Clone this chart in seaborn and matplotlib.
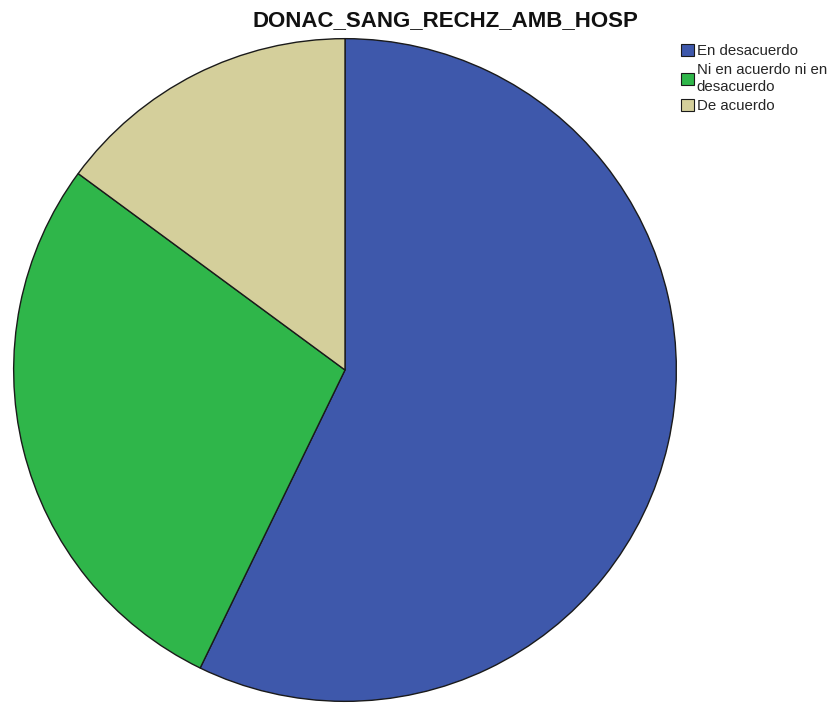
import matplotlib
matplotlib.use("Agg")
import matplotlib.pyplot as plt
import seaborn as sns

# Data (percent of responses)
categories = ["En desacuerdo", "Ni en acuerdo ni en\ndesacuerdo", "De acuerdo"]
values = [57.2, 27.9, 14.9]
colors = ["#3e58ab", "#2fb64a", "#d4cf9b"]

sns.set_theme(style="white")
plt.rcParams['font.family'] = ['Liberation Sans', 'DejaVu Sans']

fig = plt.figure(figsize=(8.37, 7.04), dpi=100)
ax = fig.add_axes([12 / 837, 1 / 704, 666 / 837, 666 / 704])

wedges, _ = ax.pie(values, colors=colors, startangle=90, counterclock=False,
                   radius=1.0, wedgeprops=dict(edgecolor="#1a1a1a", linewidth=1.0))
ax.set_xlim(-1.005, 1.005)
ax.set_ylim(-1.005, 1.005)
ax.set_aspect("equal")
ax.axis("off")

fig.text(445 / 837, 1 - 21 / 704, "DONAC_SANG_RECHZ_AMB_HOSP", ha="center", va="center",
         fontsize=16, fontweight="bold", color="#111111")

leg = fig.legend(wedges, categories, loc="upper left", bbox_to_anchor=(675 / 837, 1 - 38 / 704),
                 frameon=False, fontsize=10.8, handlelength=0.85, handleheight=0.85,
                 handletextpad=0.2, labelspacing=0.35, borderaxespad=0)
for h in leg.legend_handles:
    h.set_edgecolor("#1a1a1a")
    h.set_linewidth(0.8)

fig.savefig("out.png", dpi=100, facecolor="white")
